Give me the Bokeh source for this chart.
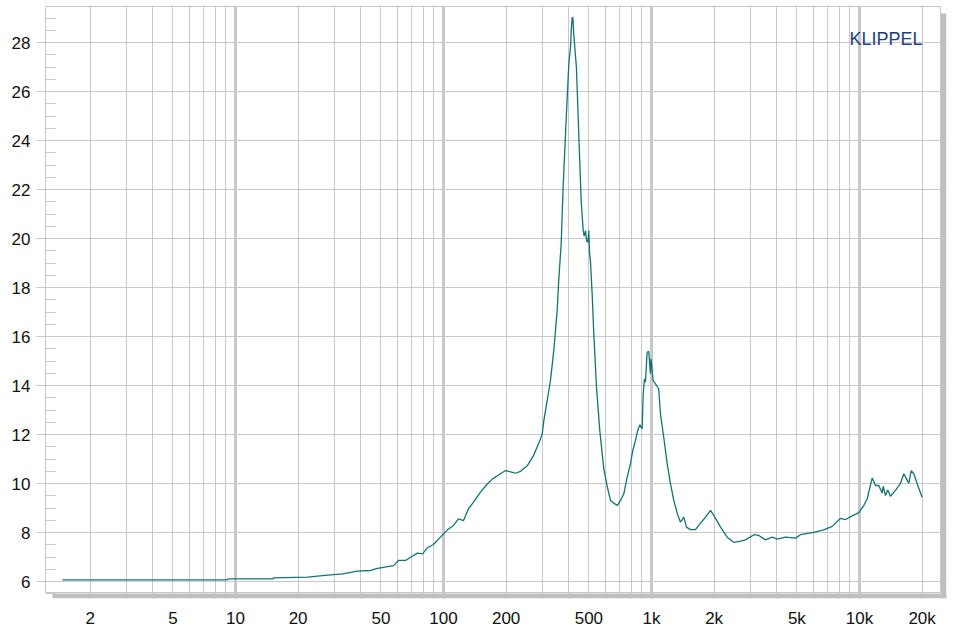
import math
from bokeh.plotting import figure
from bokeh.models import Range1d, FixedTicker, CustomJSTickFormatter, Grid, Label
from bokeh.embed import file_html
from bokeh.resources import INLINE

freq_hz = [1.47, 3.9, 9.15, 9.2, 15.1, 15.2, 22.2, 27.7, 32.7, 38.6, 44.6, 48.2, 57.5, 60.8,
           65.7, 69.4, 75.0, 79.3, 83.8, 89.5, 96.7, 104.5, 111.7, 118, 124.8, 131.9, 139.4,
           150.6, 162.7, 172, 188, 198.6, 214.6, 222, 234.6, 253.4, 270.8, 286.2, 298, 303.6,
           315.2, 326.9, 339, 352, 358, 368, 376, 386, 400.4, 408, 412, 415.7, 419, 422.7,
           435.5, 448.8, 459, 469.5, 475, 481.7, 488, 494.2, 499.7, 503, 509, 518.7, 528, 544,
           564, 589.7, 612, 635, 659, 684, 710, 736, 764, 792.5, 813, 837.5, 859, 879, 890,
           902, 912, 925, 935, 953, 970, 988, 995, 1018, 1045, 1083, 1104, 1145, 1190, 1234,
           1280, 1329, 1378, 1430, 1473, 1540, 1627, 1720, 1818, 1922, 1993, 2147, 2312,
           2487, 2679, 2831, 3104, 3281, 3532, 3803, 4021, 4406, 4920, 5202, 6026, 6730,
           7393, 8104, 8565, 9226, 9923, 10490, 10890, 11510, 11940, 12380, 12850, 13000,
           13330, 13680, 14090, 14890, 15740, 16330, 16830, 17260, 17730, 18240, 19060, 20000]
level = [6.07, 6.07, 6.07, 6.11, 6.11, 6.15, 6.18, 6.26, 6.31, 6.42, 6.45, 6.54, 6.65, 6.86,
         6.86, 6.99, 7.16, 7.13, 7.38, 7.51, 7.81, 8.11, 8.29, 8.56, 8.49, 8.97, 9.24,
         9.65, 9.99, 10.19, 10.40, 10.53, 10.46, 10.42, 10.50, 10.74, 11.14, 11.62, 12.0, 12.57,
         13.39, 14.21, 15.43, 17.07, 18.29, 19.79, 22.1, 24.28, 27.14, 27.8, 28.6, 29.04, 29.0, 28.36,
         27.0, 23.87, 21.56, 20.33, 20.1, 20.33, 19.9, 19.85, 20.33, 19.5, 19.04, 17.7, 16.11, 13.93,
         12.17, 10.6, 9.9, 9.31, 9.20, 9.10, 9.31, 9.58, 10.26, 10.81, 11.35, 11.76, 12.17, 12.40, 12.3,
         12.24, 13.66, 14.28, 14.14, 15.36, 15.40, 14.48, 15.09, 14.21, 14.07, 13.87, 12.85, 11.89, 10.81, 9.99,
         9.31, 8.79, 8.42, 8.63, 8.22, 8.12, 8.12, 8.38, 8.63, 8.90, 8.70, 8.22, 7.81,
         7.60, 7.65, 7.70, 7.91, 7.88, 7.70, 7.81, 7.73, 7.81, 7.77, 7.91, 8.01, 8.11,
         8.25, 8.58, 8.53, 8.68, 8.81, 9.10, 9.38, 10.23, 9.92, 9.92, 9.61, 9.89,
         9.51, 9.74, 9.48, 9.72, 10.01, 10.40, 10.19, 10.01, 10.53, 10.40, 9.92, 9.44]

x_tick_values = [2, 5, 10, 20, 50, 100, 200, 500, 1000, 2000, 5000, 10000, 20000]
x_grid_values = [m * d for d in (1, 10, 100, 1000, 10000) for m in range(2, 10) if m * d <= 20000]
x_decades = [10, 100, 1000, 10000]
y_tick_values = list(range(6, 30, 2))
y_minor_values = [v / 2 for v in range(11, 59) if v % 4 != 0]

GRID = "#c8c8c8"
SHADOW = "#c0c0c0"
FONT = "Liberation Sans"

# layout in pixels (canvas)
W, H = 950, 632
FL, FR, FT, FB = 45, 946, 5, 598      # extended frame (incl. shadow strip)
PX_DEC = 208.0                         # px per decade
X10 = 235.0                            # px of 10 Hz
PX_UNIT = 24.49                        # px per y unit
Y6 = 581.0                             # px of value 6


def fx(px):
    return 10 ** (1 + (px - X10) / PX_DEC)


def fy(py):
    return 6 + (Y6 - py) / PX_UNIT


p = figure(width=W, height=H, x_axis_type="log",
           x_range=Range1d(fx(FL), fx(FR)), y_range=Range1d(fy(FB), fy(FT)),
           output_backend="svg", toolbar_location=None,
           min_border_left=FL, min_border_right=W - FR, min_border_top=FT,
           min_border_bottom=H - FB)
p.background_fill_color = "white"
p.border_fill_color = "white"
p.outline_line_color = None

# x axis
xa = p.xaxis[0]
xa.ticker = FixedTicker(ticks=x_tick_values, minor_ticks=[])
xa.formatter = CustomJSTickFormatter(code="return tick >= 1000 ? (Math.round(tick/1000)) + 'k' : String(Math.round(tick));")
xa.axis_line_color = None
xa.major_tick_out = 0
xa.major_tick_in = 0
xa.minor_tick_out = 0
xa.minor_tick_in = 0
xa.major_label_standoff = 10
xa.major_label_text_font = FONT
xa.major_label_text_font_size = "17px"
xa.major_label_text_color = "#111111"

# y axis
ya = p.yaxis[0]
ya.ticker = FixedTicker(ticks=y_tick_values, minor_ticks=y_minor_values)
ya.bounds = (fy(592), fy(6))
ya.axis_line_color = GRID
ya.major_tick_line_color = GRID
ya.minor_tick_line_color = GRID
ya.major_tick_out = 9
ya.major_tick_in = 0
ya.minor_tick_out = 0
ya.minor_tick_in = 10
ya.major_label_standoff = 6
ya.major_label_text_font = FONT
ya.major_label_text_font_size = "17px"
ya.major_label_text_color = "#111111"

# grids
p.xgrid[0].ticker = FixedTicker(ticks=x_grid_values)
p.xgrid[0].grid_line_color = GRID
p.xgrid[0].grid_line_width = 1
p.add_layout(Grid(dimension=0, ticker=FixedTicker(ticks=x_decades),
                  grid_line_color=GRID, grid_line_width=3))
p.ygrid[0].grid_line_color = GRID
p.ygrid[0].grid_line_width = 1

# shadow strips (decoration) and plot-area border
p.quad(left=[fx(940.5), fx(52)], right=[fx(FR), fx(FR)], top=[fy(13), fy(593)],
       bottom=[fy(FB), fy(FB)], fill_color=SHADOW, line_color=None)
p.quad(left=[fx(45)], right=[fx(940)], top=[fy(6)], bottom=[fy(592)],
       fill_color=None, line_color=GRID, line_width=1)

p.line(freq_hz, level, line_color="#177272", line_width=1.3)

p.add_layout(Label(x=fx(849), y=fy(38), text="KLIPPEL", text_font=FONT, text_font_size="18px",
                   text_color="#233d7b", text_baseline="alphabetic", text_align="left"))

open("out.html", "w").write(file_html(p, INLINE))
